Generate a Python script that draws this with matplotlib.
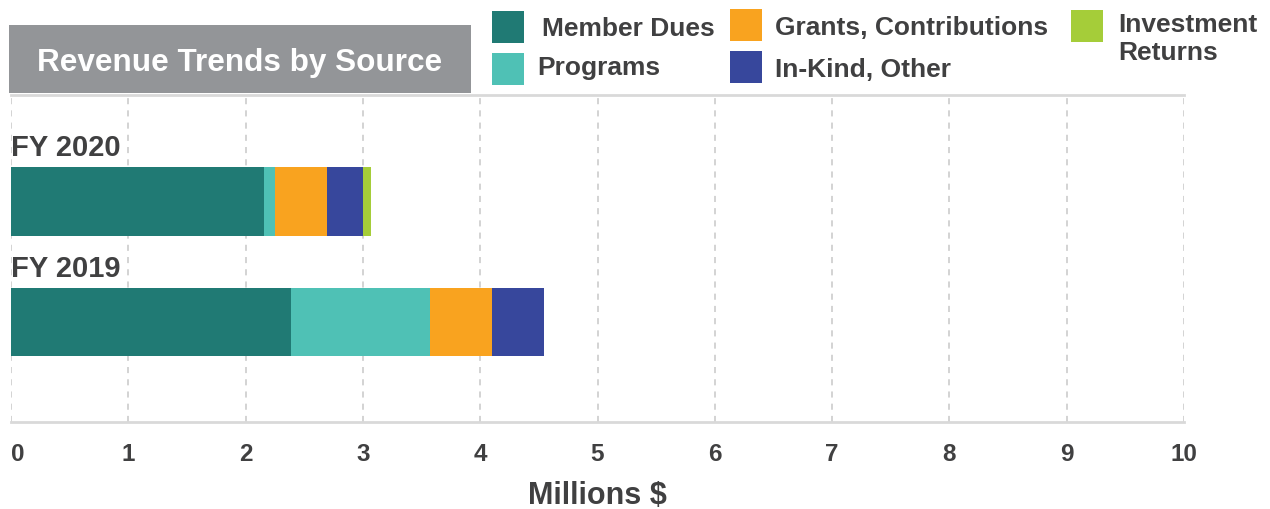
import matplotlib.pyplot as plt
from matplotlib.patches import Rectangle
import numpy as np

# --- data (millions $) ---
years = ['FY 2019', 'FY 2020']
member_dues = [2.39, 2.16]
programs = [1.18, 0.09]
grants = [0.53, 0.44]
in_kind = [0.44, 0.31]
investment = [0.0, 0.07]

sources = ['Member Dues', 'Programs', 'Grants, Contributions', 'In-Kind, Other', 'Investment\nReturns']
colors = ['#207a74', '#4fc1b5', '#f9a31f', '#37479c', '#a5cd39']
x_ticks = list(range(0, 11))

W, H = 1270, 510
TEXT = '#404041'
FONT = 'Liberation Sans'

plt.rcParams['font.family'] = [FONT, 'DejaVu Sans']
plt.rcParams['font.weight'] = 'bold'

fig = plt.figure(figsize=(W / 100, H / 100), dpi=100)
fig.patch.set_facecolor('white')

def fx(px):
    return px / W

def fy(py):
    return 1 - py / H

ax = fig.add_axes([fx(11), fy(423), (1184 - 11) / W, (423 - 96) / H])

# stacked bars
y = np.arange(len(years))
bar_h = 0.57
series = [member_dues, programs, grants, in_kind, investment]
left = np.zeros(len(years))
for vals, c, name in zip(series, colors, sources):
    vals = np.array(vals)
    ax.barh(y, vals, left=left, height=bar_h, color=c, label=name, zorder=3)
    left += vals

# year labels above each bar
for yi, name in zip(y, years):
    ax.annotate(name, xy=(0, yi + bar_h / 2), xytext=(0, 8.5), textcoords='offset points',
                ha='left', va='baseline', fontsize=21, color=TEXT, fontweight='bold')

ax.set_xlim(0, 10)
ax.set_ylim(-0.83, 1.884)
ax.set_yticks([])
ax.set_xticks(x_ticks)
ax.set_xticklabels([str(t) for t in x_ticks], fontsize=17.5, color=TEXT, fontweight='bold')
ax.get_xticklabels()[0].set_horizontalalignment('left')
ax.tick_params(axis='x', length=0, pad=14.5)

ax.grid(axis='x', color='#c8c8c8', linestyle=(0, (4, 4)), linewidth=1.1, zorder=1)

for s in ['left', 'right']:
    ax.spines[s].set_visible(False)
for s in ['top', 'bottom']:
    ax.spines[s].set_color('#d9d9d9')
    ax.spines[s].set_linewidth(2)

ax.set_xlabel('Millions $', fontsize=22, color=TEXT, fontweight='bold', labelpad=11)

# title box
fig.patches.append(Rectangle((fx(9), fy(94)), (471 - 9) / W, (94 - 26) / H,
                             transform=fig.transFigure, facecolor='#939598',
                             edgecolor='none', zorder=5))
fig.text(fx(240), fy(71), 'Revenue Trends by Source', ha='center', va='baseline',
         fontsize=22.7, color='white', fontweight='bold', zorder=6)

# legend drawn by hand
sq = [(492, 12), (492, 54), (730, 10), (730, 52), (1071, 11)]
txt = [(542, 36), (537, 75), (775, 35), (775, 77), (1118, 32)]
for (sx, sy), (tx, ty), c, name in zip(sq, txt, colors, sources):
    fig.patches.append(Rectangle((fx(sx), fy(sy + 32)), 32 / W, 32 / H,
                                 transform=fig.transFigure, facecolor=c, edgecolor='none'))
    for i, line in enumerate(name.split('\n')):
        fig.text(fx(tx), fy(ty + 28 * i), line, ha='left', va='baseline',
                 fontsize=19, color=TEXT, fontweight='bold')

fig.savefig('out.png', dpi=100, facecolor='white')
